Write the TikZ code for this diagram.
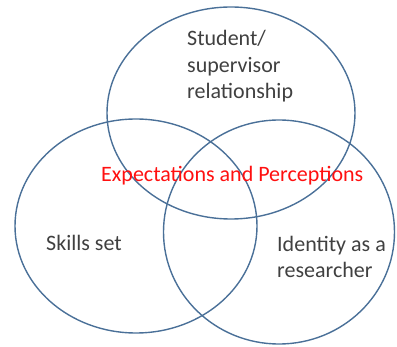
\documentclass[tikz,border=0pt]{standalone}
\usepackage{fontspec}
\setmainfont{Carlito}
\usetikzlibrary{shapes.geometric}

\definecolor{ringblue}{HTML}{4A7098}
\definecolor{labelgray}{HTML}{404040}
\definecolor{midred}{HTML}{FF1010}

\tikzset{
  ring/.style={draw=ringblue, line width=1.4pt, ellipse, inner sep=0pt},
  lbl/.style={text=labelgray, anchor=base west, align=left, inner sep=0pt,
    font=\fontsize{22}{26.5}\selectfont}
}

\begin{document}
\begin{tikzpicture}[x=1pt,y=-1pt]

    \useasboundingbox (0,0) rectangle (397,347);

    \node (top) [ring, minimum width=248pt, minimum height=212pt] at (231,113) {};
    \node (left) [ring, minimum width=242pt, minimum height=214pt] at (136,226) {};
    \node (right) [ring, minimum width=231pt, minimum height=224pt] at (279,232) {};

    % base sits on the last line
    \node (rel) [lbl] at (187,99) {Student/\\supervisor\\relationship};
    \node (skills) [lbl] at (46,251) {Skills set};
    \node (ident) [lbl] at (277,278) {Identity as a\\researcher};
    \node (mid) [lbl, text=midred] at (101,182) {Expectations and Perceptions};

\end{tikzpicture}
\end{document}
